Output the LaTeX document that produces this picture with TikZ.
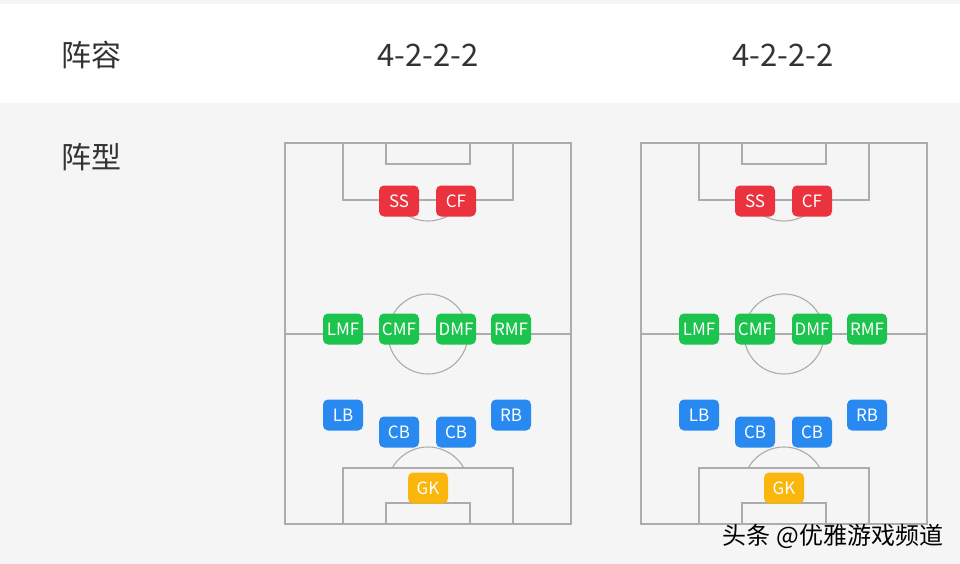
\documentclass[tikz,border=0pt]{standalone}
\usepackage{fontspec}
\setmainfont{Noto Sans CJK SC}
\usetikzlibrary{positioning}
\definecolor{bggray}{RGB}{245,245,245}
\definecolor{linegray}{RGB}{172,172,172}
\definecolor{textdark}{RGB}{51,51,51}
\definecolor{fwdred}{RGB}{234,51,62}
\definecolor{midgreen}{RGB}{28,196,78}
\definecolor{defblue}{RGB}{40,138,240}
\definecolor{gkyellow}{RGB}{250,182,12}

\begin{document}
\begin{tikzpicture}[x=1pt,y=-1pt,
  pitchline/.style={draw=linegray, line width=1.1pt},
  player/.style={rectangle, rounded corners=5pt, minimum width=40pt, minimum height=31pt,
    inner sep=0pt, text=white, font=\fontsize{17}{17}\selectfont},
  rowlabel/.style={font=\fontsize{30}{30}\selectfont, text=textdark, anchor=west},
  formation/.style={font=\fontsize{31}{31}\selectfont, text=textdark}]

% background
\fill[bggray] (0,0) rectangle (960,564);
\fill[white] (0,4) rectangle (960,103);
\useasboundingbox (0,0) rectangle (960,564);

% row labels
\node[rowlabel] (lineuplbl) at (58,55) {阵容};
\node[rowlabel] (shapelbl) at (58,157) {阵型};
\node[formation] (forma) at (428,55) {4-2-2-2};
\node[formation] (formb) at (783,55) {4-2-2-2};

% pitches
\foreach \ox/\p in {0/a, 356/b} {
\begin{scope}[xshift=\ox pt]
  \draw[pitchline] (285,143) rectangle (571,524);
  \draw[pitchline] (285,334) -- (571,334);
  \draw[pitchline] (428,334) circle[radius=40pt];
  % top box
  \draw[pitchline] (343,143) rectangle (513,200);
  \draw[pitchline] (386,143) rectangle (470,164);
  \begin{scope}
    \clip (343,200) rectangle (513,240);
    \draw[pitchline] (428,180) circle[radius=41pt];
  \end{scope}
  % bottom box
  \draw[pitchline] (343,468) rectangle (513,524);
  \draw[pitchline] (386,503) rectangle (470,524);
  \begin{scope}
    \clip (343,430) rectangle (513,468);
    \draw[pitchline] (428,488) circle[radius=41pt];
  \end{scope}
  % players
  \foreach \id/\nm/\px/\py/\col in {ss/SS/399/201/fwdred, cf/CF/456/201/fwdred,
      lmf/LMF/343/329/midgreen, cmf/CMF/399/329/midgreen, dmf/DMF/456/329/midgreen, rmf/RMF/511/329/midgreen,
      lb/LB/343/415/defblue, cbl/CB/399/432/defblue, cbr/CB/456/432/defblue, rb/RB/511/415/defblue,
      gk/GK/428/488/gkyellow}
    \node[player, fill=\col] (\p-\id) at (\px,\py) {\nm};
\end{scope}
}

% watermark
\node[font=\fontsize{24}{24}\selectfont, text=black] (mark) at (833,536) {头条 @优雅游戏频道};

\end{tikzpicture}
\end{document}
